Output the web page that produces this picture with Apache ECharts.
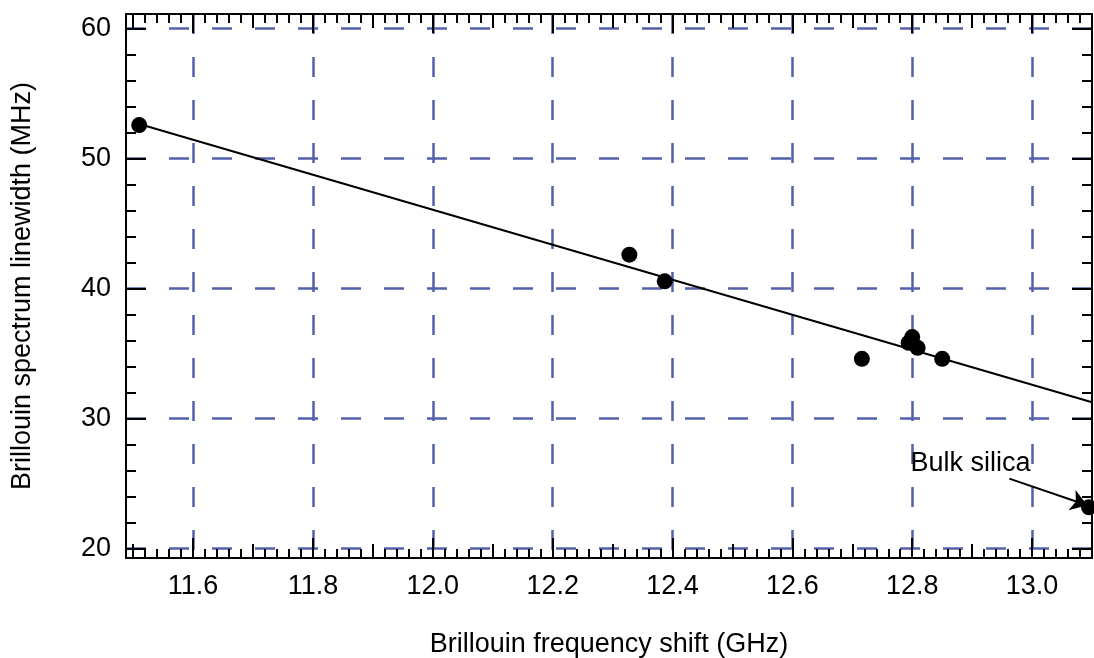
<!DOCTYPE html>
<html>
<head>
<meta charset="utf-8">
<script src="https://cdn.jsdelivr.net/npm/echarts@6/dist/echarts.min.js"></script>
<style>
html, body { margin: 0; padding: 0; background: #fff; }
#chart { width: 1094px; height: 658px; }
</style>
</head>
<body>
<div id="chart"></div>
<script>
// measured points (GHz, MHz)
var shiftGHz = [11.51, 12.328, 12.387, 12.716, 12.794, 12.80, 12.809, 12.85, 13.095];
var linewidthMHz = [52.56, 42.6, 40.55, 34.59, 35.82, 36.26, 35.44, 34.59, 23.18];

// linear fit, end points
var fitShift = [11.51, 13.1];
var fitWidth = [52.64, 31.25];

// annotation
var noteText = 'Bulk silica';
var notePos = [12.797, 26.56];
var arrowFrom = [12.962, 25.38];
var arrowTo = [13.092, 23.33];

// axes
var xMin = 11.488, xMax = 13.1;
var yMin = 19.28, yMax = 61.1;
var xMajor = [11.6, 11.8, 12.0, 12.2, 12.4, 12.6, 12.8, 13.0];
var xMid = [11.5, 11.7, 11.9, 12.1, 12.3, 12.5, 12.7, 12.9, 13.1];
var yMajor = [20, 30, 40, 50, 60];

var xMinor = [];
for (var i = 575; i <= 655; i++) xMinor.push(+(i * 0.02).toFixed(2));
var yMinor = [];
for (var j = 20; j <= 60; j += 2) yMinor.push(j);

var FONT = '"Liberation Sans", Arial, sans-serif';
var FONT_SIZE = 27;
var GRID_COLOR = '#5560aa';

var pts = shiftGHz.map(function (x, k) { return [x, linewidthMHz[k]]; });
var fit = fitShift.map(function (x, k) { return [x, fitWidth[k]]; });

function tickLine() {
    return { color: '#000', width: 2 };
}

/* one axis = one tick size; stacked on the same side */
function xAx(pos, ticks, len, main) {
    var labelled = main && pos === 'bottom';
    return {
        type: 'value', gridIndex: 0, position: pos,
        min: xMin, max: xMax,
        name: labelled ? 'Brillouin frequency shift (GHz)' : '',
        nameLocation: 'middle', nameGap: 73,
        nameTextStyle: { fontFamily: FONT, fontSize: FONT_SIZE, color: '#000' },
        axisLine: { show: main, onZero: false, lineStyle: tickLine() },
        axisTick: { show: true, inside: true, length: len, customValues: ticks, lineStyle: tickLine() },
        axisLabel: {
            show: labelled, customValues: xMajor, margin: 15,
            fontFamily: FONT, fontSize: FONT_SIZE, color: '#000',
            formatter: function (v) { return v.toFixed(1); }
        },
        splitLine: {
            show: labelled,
            lineStyle: { color: GRID_COLOR, width: 2.5, type: [20, 23] }
        }
    };
}

function yAx(pos, ticks, len, main) {
    var labelled = main && pos === 'left';
    return {
        type: 'value', gridIndex: 0, position: pos,
        min: yMin, max: yMax,
        name: labelled ? 'Brillouin spectrum linewidth (MHz)' : '',
        nameLocation: 'middle', nameGap: 90,
        nameTextStyle: { fontFamily: FONT, fontSize: FONT_SIZE, color: '#000' },
        axisLine: { show: main, onZero: false, lineStyle: tickLine() },
        axisTick: { show: true, inside: true, length: len, customValues: ticks, lineStyle: tickLine() },
        axisLabel: {
            show: labelled, customValues: yMajor, margin: 15,
            fontFamily: FONT, fontSize: FONT_SIZE, color: '#000'
        },
        splitLine: {
            show: labelled,
            lineStyle: { color: GRID_COLOR, width: 2.5, type: [20, 23] }
        }
    };
}

var myChart = echarts.init(document.getElementById('chart'));
var option = {
    backgroundColor: '#fff',
    animation: false,
    grid: { left: 126, right: 2, top: 14, bottom: 100, containLabel: false, outerBoundsMode: 'none' },
    xAxis: [
        xAx('bottom', xMajor, 20, true),
        xAx('bottom', xMid, 14, false),
        xAx('bottom', xMinor, 9, false),
        xAx('top', xMajor, 19, true),
        xAx('top', xMid, 14, false),
        xAx('top', xMinor, 9, false)
    ],
    yAxis: [
        yAx('left', yMajor, 20, true),
        yAx('left', yMinor, 10, false),
        yAx('right', yMajor, 20, true),
        yAx('right', yMinor, 10, false)
    ],
    series: [
        {
            name: 'fit',
            type: 'line',
            xAxisIndex: 0, yAxisIndex: 0,
            data: fit,
            showSymbol: false,
            lineStyle: { color: '#000', width: 2 },
            z: 3
        },
        {
            name: 'data',
            type: 'scatter',
            xAxisIndex: 0, yAxisIndex: 0,
            data: pts,
            symbolSize: 16,
            itemStyle: { color: '#000', opacity: 1 },
            clip: false,
            z: 4,
            markLine: {
                silent: true,
                symbol: ['none', 'arrow'],
                symbolSize: 16,
                lineStyle: { color: '#000', width: 2, type: 'solid', opacity: 1 },
                label: { show: false },
                data: [[{ coord: arrowFrom }, { coord: arrowTo }]]
            }
        },
        {
            name: 'note',
            type: 'scatter',
            xAxisIndex: 0, yAxisIndex: 0,
            data: [notePos],
            symbolSize: 0,
            silent: true,
            z: 5,
            itemStyle: { opacity: 1 },
            label: {
                show: true, position: 'right', distance: 0,
                fontFamily: FONT, fontSize: FONT_SIZE, color: '#000',
                formatter: function () { return noteText; }
            }
        }
    ]
};
myChart.setOption(option);
</script>
</body>
</html>
